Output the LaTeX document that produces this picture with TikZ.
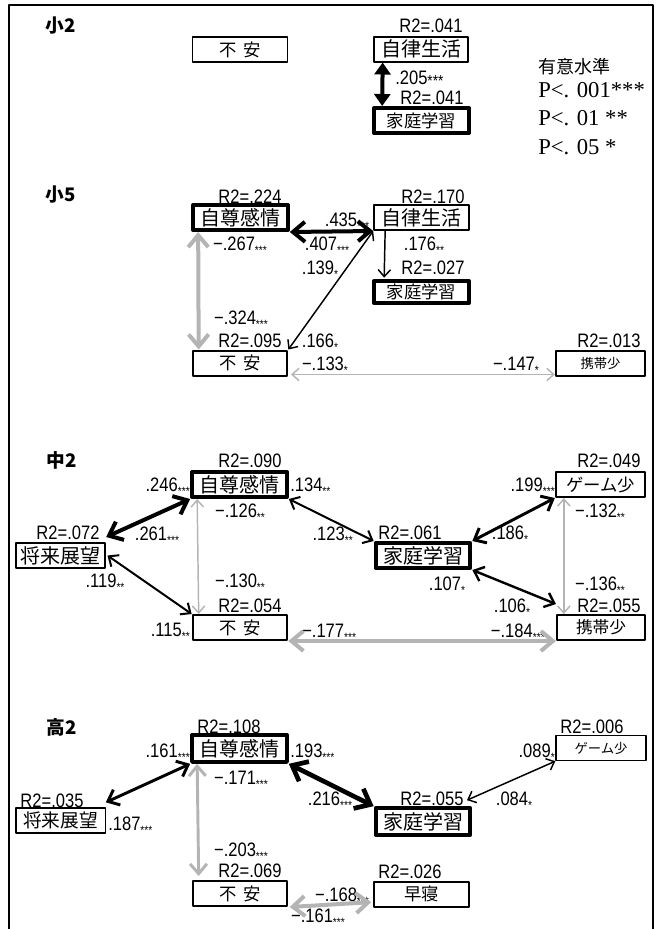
\documentclass[tikz,border=0pt]{standalone}
\usepackage{fontspec}
\setmainfont{Liberation Sans}
\newfontfamily\cjk{Noto Sans CJK JP}
\newfontfamily\numfont[FakeStretch=0.85]{Liberation Sans}
\newfontfamily\serif{Liberation Serif}
\usetikzlibrary{arrows.meta}
\definecolor{pathgray}{RGB}{180,180,180}
\newcommand{\sig}[1]{\raisebox{-3pt}{\fontsize{9}{9}\selectfont#1}}
\begin{document}
\begin{tikzpicture}[x=0.75pt,y=-0.75pt,line join=round,line cap=round,
	>={Straight Barb[length=3pt 2,width=6pt 3]},
	lbl/.style={font=\numfont\fontsize{14.6}{15}\selectfont,inner sep=0pt,anchor=base},
	grade/.style={font=\cjk\bfseries\fontsize{14}{14}\selectfont,inner sep=0pt},
	legend/.style={anchor=west,inner sep=0pt,font=\serif\fontsize{17}{17}\selectfont},
	varbox/.style={draw,line width=1.5pt,minimum width=71pt,minimum height=18.75pt,inner sep=0pt},
	thinbox/.style={varbox,line width=1pt},
	boldbox/.style={varbox,line width=3pt},
	big/.style={font=\cjk\fontsize{15}{15}\selectfont},
	mid/.style={font=\cjk\fontsize{13}{13}\selectfont},
	small/.style={font=\cjk\fontsize{10}{10}\selectfont},
	arr/.style={<->,line width=#1},
	grayarr/.style={arr=#1,draw=pathgray}]
\useasboundingbox (0,0) rectangle (656,929);
\draw[line width=2pt] (9,929)--(9,5)--(653,5)--(653,929);

% 小2
\node[grade] (g2) at (61,26) {小2};
\node[thinbox,mid] (fuan2) at (240,49.5) {不\hspace{.4em}安};
\node[varbox,big] (jiritsu2) at (421,49) {自律生活};
\node[boldbox,mid] (katei2) at (421.5,120.5) {家庭学習};
\node[lbl] (r2jiritsu2) at (431,32) {R2=.041};
\node[lbl,anchor=base west] (c205) at (395,84) {.205{\fontsize{12}{12}\selectfont\raisebox{-1.5pt}{***}}};
\node[lbl] (r2katei2) at (432,104) {R2=.041};
\draw[line width=3pt,{Triangle[length=9pt,width=12pt]}-{Triangle[length=9pt,width=12pt]}] ([xshift=7.5pt]jiritsu2.south west)--([xshift=7.5pt]katei2.north west);
\node[anchor=west,inner sep=0pt,font=\cjk\fontsize{13.5}{14}\selectfont] (sig0) at (538,67) {有意水準};
\node[legend] (sig1) at (538,90) {P<. 001***};
\node[legend] (sig2) at (538,118) {P<. 01 **};
\node[legend] (sig3) at (538,147) {P<. 05 *};

% 小5
\node[grade] (g5) at (61,195) {小5};
\node[boldbox,big] (jison5) at (240.5,217.5) {自尊感情};
\node[varbox,big] (jiritsu5) at (421.5,217.5) {自律生活};
\node[boldbox,mid,minimum height=16.5pt] (katei5) at (421.5,292) {家庭学習};
\node[varbox,mid] (fuan5) at (240,363) {不\hspace{.4em}安};
\node[varbox,small,minimum width=67pt] (keitai5) at (600.5,363) {携帯少};
\node[lbl] (r2jison5) at (250,203) {R2=.224};
\node[lbl] (r2jiritsu5) at (433,203) {R2=.170};
\node[lbl] (c435) at (347,226) {.435\sig{***}};
\node[lbl] (c407) at (327,250) {.407\sig{***}};
\node[lbl] (c267) at (240,250) {−.267\sig{***}};
\node[lbl] (c176) at (424,250) {.176\sig{**}};
\node[lbl] (c139) at (320,274) {.139\sig{*}};
\node[lbl] (r2katei5) at (433,274) {R2=.027};
\node[lbl] (c324) at (241,324) {−.324\sig{***}};
\node[lbl] (r2fuan5) at (250,347) {R2=.095};
\node[lbl] (c166) at (320,347) {.166\sig{*}};
\node[lbl] (r2keitai5) at (609,347) {R2=.013};
\node[lbl] (c133) at (325,370) {−.133\sig{*}};
\node[lbl] (c147) at (516,370) {−.147\sig{*}};
\draw[arr=3pt] (jison5.south east)--(jiritsu5.south west);
\draw[arr=1.1pt,->] ([xshift=9pt]jiritsu5.south west)--([xshift=9pt,yshift=1pt]katei5.north west);
\draw[arr=1.1pt] (fuan5.north east)--(jiritsu5.south west);
\draw[grayarr=3pt] ([xshift=5.25pt]jison5.south west)--([xshift=5.25pt]fuan5.north west);
\draw[grayarr=1.1pt] ([xshift=2pt,yshift=1.5pt]fuan5.south east)--([yshift=1.5pt]keitai5.south west);

% 中2
\node[grade] (g14) at (62,460) {中2};
\node[boldbox,big] (jison14) at (239.5,484.5) {自尊感情};
\node[varbox,big,minimum width=67pt] (shorai14) at (60.5,555.5) {将来展望};
\node[boldbox,big] (katei14) at (423,555.5) {家庭学習};
\node[varbox,font=\cjk\fontsize{13}{13}\selectfont,minimum width=67pt] (game14) at (600.5,484.5) {ゲーム少};
\node[varbox,mid] (fuan14) at (240,627.5) {不\hspace{.4em}安};
\node[varbox,font=\cjk\fontsize{12.5}{13}\selectfont,minimum width=66pt] (keitai14) at (601,627.5) {携帯少};
\node[lbl] (r2jison14) at (250,467) {R2=.090};
\node[lbl,anchor=base east] (c246) at (190,491) {.246\sig{***}};
\node[lbl,anchor=base west] (c134) at (290,491) {.134\sig{**}};
\node[lbl] (r2game14) at (609,467) {R2=.049};
\node[lbl,anchor=base east] (c199) at (555,491) {.199\sig{***}};
\node[lbl] (c126) at (240,517) {−.126\sig{**}};
\node[lbl] (c132) at (600,517) {−.132\sig{**}};
\node[lbl] (r2shorai14) at (68,539) {R2=.072};
\node[lbl] (c261) at (157,540) {.261\sig{***}};
\node[lbl,anchor=base east] (c123) at (353,540) {.123\sig{**}};
\node[lbl] (r2katei14) at (410,539) {R2=.061};
\node[lbl] (c186) at (510,539) {.186\sig{*}};
\node[lbl] (c119) at (105,587) {.119\sig{**}};
\node[lbl] (c130) at (240,587) {−.130\sig{**}};
\node[lbl] (c107) at (447,590) {.107\sig{*}};
\node[lbl] (c136) at (600,590) {−.136\sig{**}};
\node[lbl] (r2fuan14) at (250,612) {R2=.054};
\node[lbl] (c106) at (512,612) {.106\sig{*}};
\node[lbl] (r2keitai14) at (609,612) {R2=.055};
\node[lbl,anchor=base east] (c115) at (190,636) {.115\sig{**}};
\node[lbl,anchor=base west] (c177) at (302,637) {−.177\sig{***}};
\node[lbl,anchor=base east] (c184) at (545,637) {−.184\sig{***}};
\draw[arr=3pt] (jison14.south west)--([yshift=3.75pt]shorai14.north east);
\draw[arr=1.5pt] ([xshift=1pt]shorai14.east)--(fuan14.north west);
\draw[grayarr=1.1pt] ([xshift=5.25pt]jison14.south west)--([xshift=5.25pt]fuan14.north west);
\draw[arr=1.5pt] (jison14.south east)--(katei14.north west);
\draw[arr=2.2pt] (katei14.north east)--(game14.south west);
\draw[arr=1.8pt] (katei14.south east)--([yshift=7.5pt]keitai14.north west);
\draw[grayarr=1.1pt] ([xshift=6.75pt]game14.south west)--([xshift=6.75pt]game14.south west |- keitai14.north);
\draw[grayarr=3pt] (fuan14.south east)--(keitai14.south west);

% 高2
\node[grade] (g17) at (62,727) {高2};
\node[boldbox,big,minimum height=20pt] (jison17) at (239.5,748.5) {自尊感情};
\node[thinbox,font=\cjk\fontsize{14}{14}\selectfont,minimum width=67pt] (shorai17) at (60.5,820.5) {将来展望};
\node[boldbox,big,minimum height=20pt] (katei17) at (423,821.5) {家庭学習};
\node[thinbox,small,minimum width=67.5pt] (game17) at (601,748) {ゲーム少};
\node[varbox,mid] (fuan17) at (240,893.5) {不\hspace{.4em}安};
\node[varbox,mid] (hayane17) at (421.5,894) {早寝};
\node[lbl] (r2jison17) at (229,733) {R2=.108};
\node[lbl] (r2game17) at (592,733) {R2=.006};
\node[lbl,anchor=base east] (c161a) at (190,757) {.161\sig{***}};
\node[lbl,anchor=base west] (c193) at (290,757) {.193\sig{***}};
\node[lbl,anchor=base east] (c089) at (555,757) {.089\sig{*}};
\node[lbl] (c171) at (241,784) {−.171\sig{***}};
\node[lbl] (r2shorai17) at (52,807) {R2=.035};
\node[lbl] (c216) at (330,805) {.216\sig{***}};
\node[lbl] (r2katei17) at (432,805) {R2=.055};
\node[lbl] (c084) at (514,805) {.084\sig{*}};
\node[lbl,anchor=base west] (c187) at (108,830) {.187\sig{***}};
\node[lbl] (c203) at (241,856) {−.203\sig{***}};
\node[lbl] (r2fuan17) at (250,877) {R2=.069};
\node[lbl] (r2hayane17) at (410,878) {R2=.026};
\node[lbl] (c168) at (342,901) {−.168\sig{***}};
\node[lbl] (c161b) at (318,922) {−.161\sig{***}};
\draw[arr=2.2pt] (jison17.south west)--([yshift=3.75pt]shorai17.north east);
\draw[grayarr=2.2pt] ([xshift=5.25pt]jison17.south west)--([xshift=5.25pt,yshift=3pt]fuan17.north west);
\draw[arr=3.5pt] (jison17.south east)--(katei17.north west);
\draw[arr=1.1pt] ([xshift=-4pt,yshift=4.5pt]katei17.north east)--(game17.south west);
\draw[grayarr=3pt] ([xshift=1pt]fuan17.south east)--([xshift=-1.5pt,yshift=4pt]hayane17.south west);
\end{tikzpicture}
\end{document}
